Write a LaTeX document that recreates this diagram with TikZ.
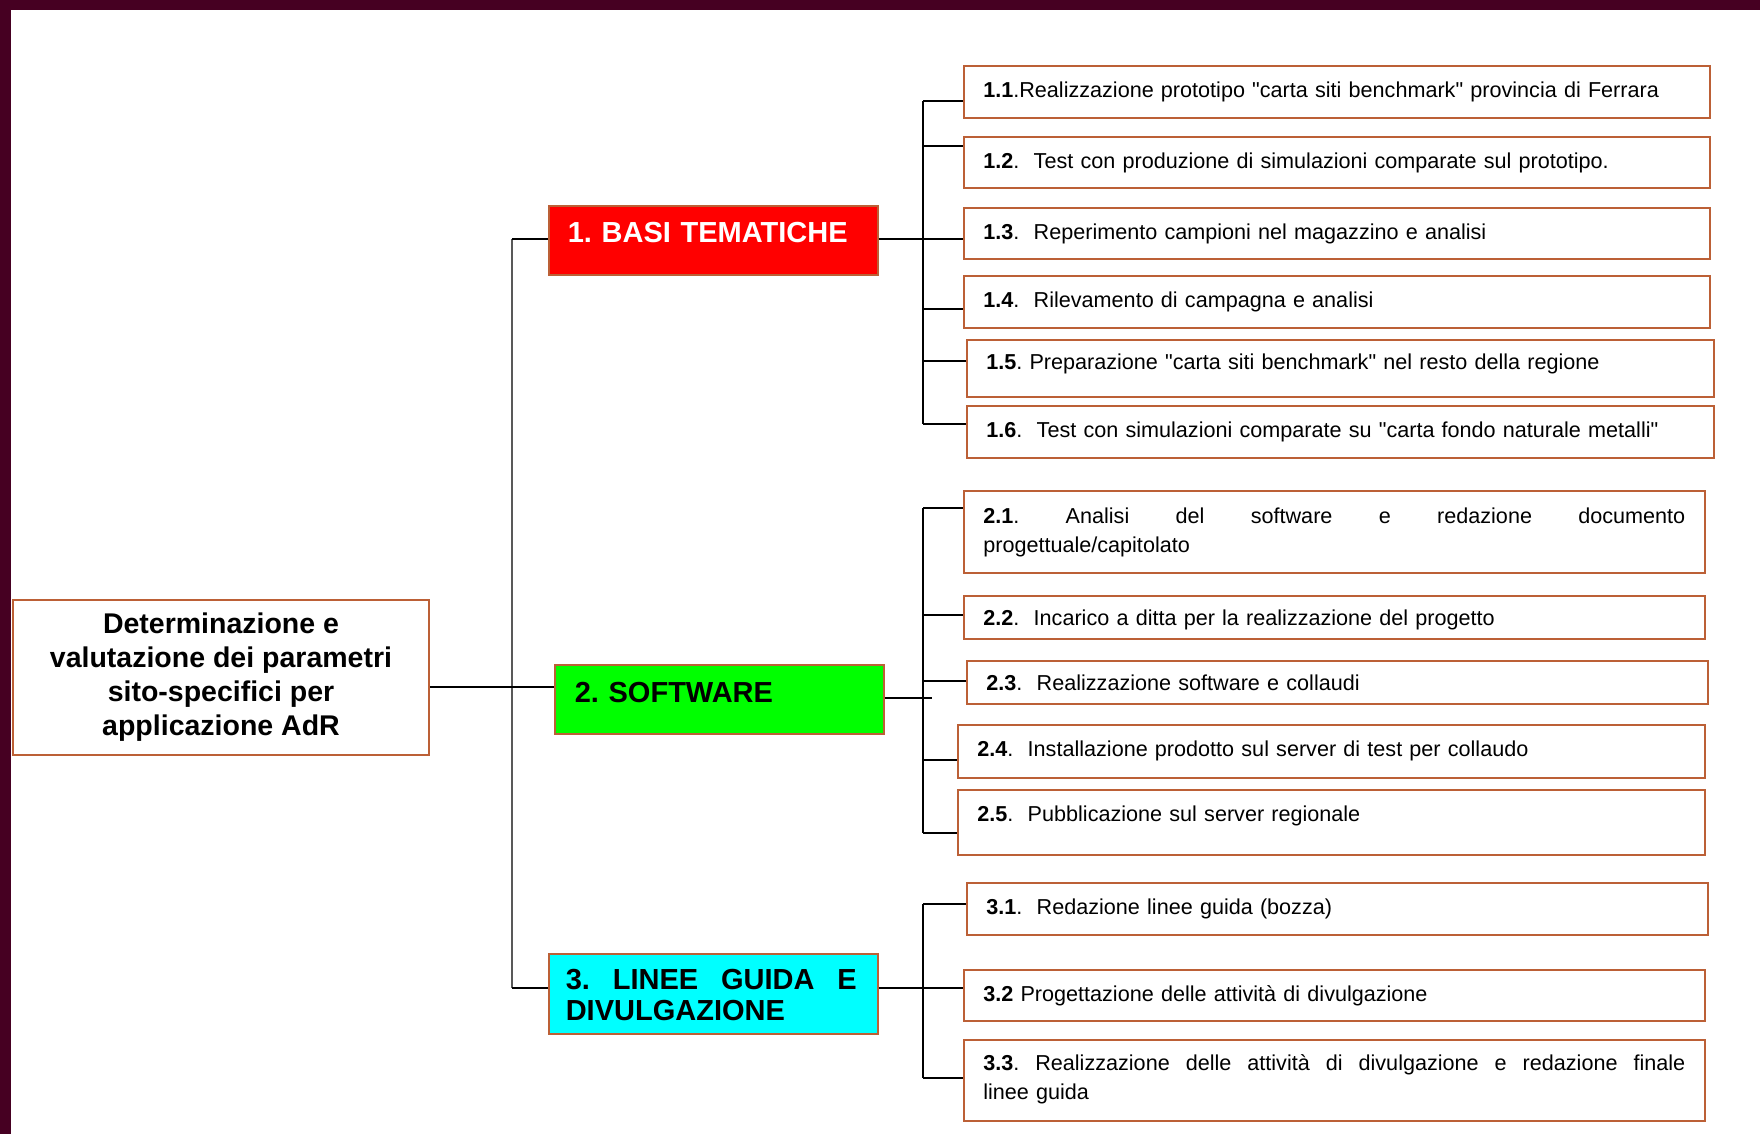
\documentclass[tikz,border=0pt]{standalone}
\usepackage{fontspec}
\setmainfont[Ligatures=TeXOff]{Liberation Sans}
\frenchspacing
\definecolor{brd}{RGB}{188,96,54}
\definecolor{frame}{RGB}{70,0,34}
\newcommand\jline[2]{\hbox to #1{#2}}
\tikzset{
  itembox/.style={draw=brd, line width=1.6pt, anchor=north west, inner xsep=19.5pt, inner ysep=0pt,
    text height=32pt, align=left, font=\fontsize{21.6}{29}\selectfont},
  catbox/.style={draw=brd, line width=1.6pt, anchor=north west, inner ysep=0pt,
    align=left, font=\fontsize{29}{31}\selectfont\bfseries},
  conn/.style={line width=1.5pt, black},
  trunkline/.style={line width=2pt, black!65}
}
\begin{document}
\begin{tikzpicture}[x=1pt,y=-1pt]
\useasboundingbox (0,0) rectangle (1760,1134);
\fill[white] (0,0) rectangle (1760,1134);
\fill[frame] (0,0) rectangle (1760,10);
\fill[frame] (0,0) rectangle (11,1134);

% main node
\node[draw=brd, line width=1.6pt, minimum width=416pt, minimum height=155pt, align=center,
  font=\fontsize{28.5}{34}\selectfont\bfseries] (main) at (221,677.5)
  {Determinazione e\\valutazione dei parametri\\sito-specifici per\\applicazione AdR};

% category nodes
\node[catbox, fill=red, text=white, inner xsep=19pt, text width=291pt, text height=37pt, text depth=32pt]
  (red) at (548,205) {1. BASI TEMATICHE};
\node[catbox, fill={rgb,255:red,0;green,255;blue,0}, inner xsep=20pt, text width=289pt, text height=38pt, text depth=31pt]
  (green) at (554,664) {2. SOFTWARE};
\node[catbox, fill={rgb,255:red,0;green,255;blue,255}, inner xsep=17pt, text width=295pt, text height=36pt, text depth=44pt]
  (cyan) at (548,953) {\jline{291pt}{3. \hfill LINEE \hfill GUIDA \hfill E}\\DIVULGAZIONE};

% items group 1
\node[itembox, text width=707pt, text depth=20pt] (b11) at (963,65)
  {\textbf{1.1}.Realizzazione prototipo "carta siti benchmark" provincia di Ferrara};
\node[itembox, text width=707pt, text depth=19pt] (b12) at (963,136)
  {\textbf{1.2}.\ \ Test con produzione di simulazioni comparate sul prototipo.};
\node[itembox, text width=707pt, text depth=19pt] (b13) at (963,207)
  {\textbf{1.3}.\ \ Reperimento campioni nel magazzino e analisi};
\node[itembox, text width=707pt, text depth=20pt] (b14) at (963,275)
  {\textbf{1.4}.\ \ Rilevamento di campagna e analisi};
\node[itembox, text width=708pt, text depth=27pt, text height=30pt] (b15) at (966,339)
  {\textbf{1.5}. Preparazione "carta siti benchmark" nel resto della regione};
\node[itembox, text width=708pt, text depth=20pt] (b16) at (966,405)
  {\textbf{1.6}.\ \ Test con simulazioni comparate su "carta fondo naturale metalli"};

% items group 2
\node[itembox, text width=702pt, text depth=49pt, text height=33pt] (b21) at (963,490)
  {\jline{702pt}{\textbf{2.1}. \hfill Analisi \hfill del \hfill software \hfill e \hfill redazione \hfill documento}\\progettuale/capitolato};
\node[itembox, text width=702pt, text height=30pt, text depth=13pt] (b22) at (963,595)
  {\textbf{2.2}.\ \ Incarico a ditta per la realizzazione del progetto};
\node[itembox, text width=702pt, text height=30pt, text depth=13pt] (b23) at (966,660)
  {\textbf{2.3}.\ \ Realizzazione software e collaudi};
\node[itembox, text width=708pt, text depth=21pt] (b24) at (957,724)
  {\textbf{2.4}.\ \ Installazione prodotto sul server di test per collaudo};
\node[itembox, text width=708pt, text depth=33pt] (b25) at (957,789)
  {\textbf{2.5}.\ \ Pubblicazione sul server regionale};

% items group 3
\node[itembox, text width=702pt, text depth=20pt] (b31) at (966,882)
  {\textbf{3.1}.\ \ Redazione linee guida (bozza)};
\node[itembox, text width=702pt, text depth=19pt] (b32) at (963,969)
  {\textbf{3.2} Progettazione delle attività di divulgazione};
\node[itembox, text width=702pt, text depth=50pt, text height=31pt] (b33) at (963,1039)
  {\jline{702pt}{\textbf{3.3}. \hfill Realizzazione \hfill delle \hfill attività \hfill di \hfill divulgazione \hfill e \hfill redazione \hfill finale}\\linee guida};

% coordinates for trunks
\coordinate (tk) at (512,0);
\coordinate (v) at (923,0);

% main trunk
\draw[trunkline] (tk|-0,239) -- (tk|-0,988);
\draw[conn] (main.east|-0,687) -- (green.west|-0,687);
\draw[conn] (tk|-0,239) -- (red.west|-0,239);
\draw[conn] (tk|-0,988) -- (cyan.west|-0,988);

% group 1
\draw[conn] (v|-0,101) -- (v|-0,424);
\draw[conn] (red.east|-0,239) -- ([xshift=6pt]v|-0,239);
\draw[conn] (v|-0,101) -- (b11.west|-0,101);
\draw[conn] (v|-0,146) -- (b12.west|-0,146);
\draw[conn] (v|-0,239) -- (b13.west|-0,239);
\draw[conn] (v|-0,309) -- (b14.west|-0,309);
\draw[conn] (v|-0,361) -- (b15.west|-0,361);
\draw[conn] (v|-0,424) -- (b16.west|-0,424);

% group 2
\draw[conn] (v|-0,508) -- (v|-0,833);
\draw[conn] (green.east|-0,698) -- ([xshift=9pt]v|-0,698);
\draw[conn] (v|-0,508) -- (b21.west|-0,508);
\draw[conn] (v|-0,615) -- (b22.west|-0,615);
\draw[conn] (v|-0,681) -- (b23.west|-0,681);
\draw[conn] (v|-0,760) -- (b24.west|-0,760);
\draw[conn] (v|-0,833) -- (b25.west|-0,833);

% group 3
\draw[conn] (v|-0,904) -- (v|-0,1078);
\draw[conn] (cyan.east|-0,988) -- (b32.west|-0,988);
\draw[conn] (v|-0,904) -- (b31.west|-0,904);
\draw[conn] (v|-0,1078) -- (b33.west|-0,1078);
\end{tikzpicture}
\end{document}
